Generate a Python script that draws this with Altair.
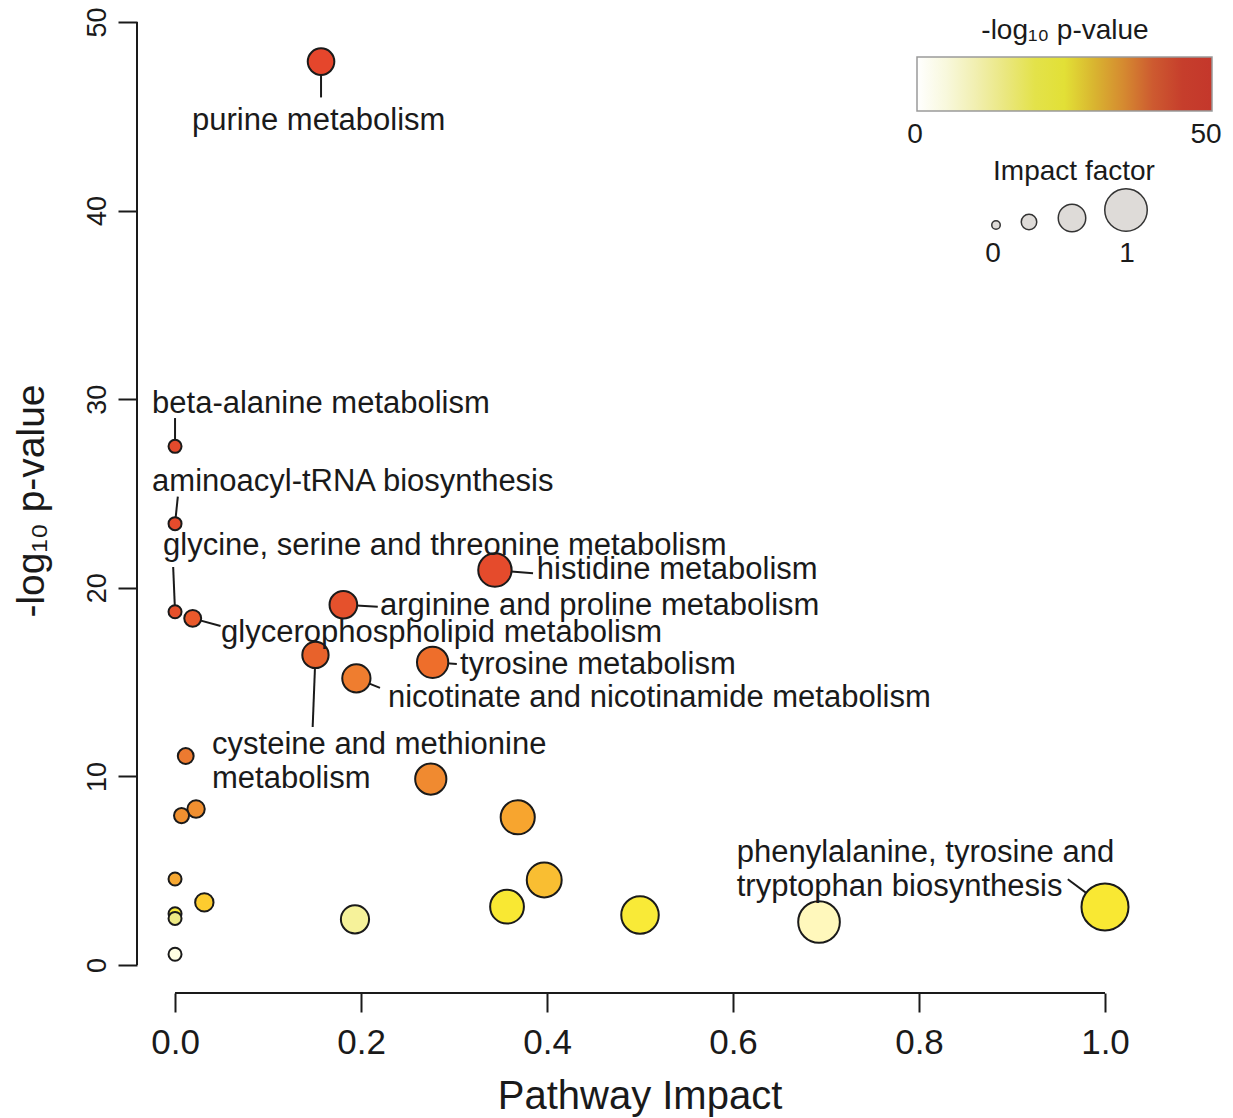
import altair as alt
import pandas as pd

# ---------------- data ----------------
pathway = [
    "purine metabolism", "beta-alanine metabolism", "aminoacyl-tRNA biosynthesis",
    "glycine, serine and threonine metabolism", "glycerophospholipid metabolism",
    "histidine metabolism", "arginine and proline metabolism",
    "cysteine and methionine metabolism", "tyrosine metabolism",
    "nicotinate and nicotinamide metabolism", "p11", "p12", "p13", "p14", "p15",
    "p16", "p17", "p18", "p19", "p20",
    "phenylalanine, tyrosine and tryptophan biosynthesis", "p22", "p23", "p24", "p25", "p26",
]
impact = [0.157, 0.0, 0.0, 0.0, 0.019, 0.344, 0.181, 0.151, 0.277, 0.195,
          0.0115, 0.275, 0.0226, 0.007, 0.3685, 0.0, 0.397, 0.0315, 0.357, 0.5,
          1.0, 0.6925, 0.1935, 0.0, 0.0, 0.0]
neglogp = [47.9, 27.5, 23.4, 18.73, 18.38, 20.94, 19.1, 16.44, 16.05, 15.2,
           11.08, 9.86, 8.27, 7.92, 7.83, 4.56, 4.51, 3.32, 3.09, 2.65,
           3.08, 2.28, 2.42, 2.72, 2.47, 0.57]

# point colour scale (by -log10 p)
color_domain = [0.5, 2.28, 2.42, 2.47, 2.65, 3.1, 3.32, 4.51, 4.56, 7.83, 7.92,
                9.86, 11.08, 15.2, 16.05, 16.44, 18.38, 18.73, 19.1, 21.0, 50]
color_range = ['#FFFFE5', '#FFF8BC', '#F6F29A', '#EEEA85', '#F9EA37', '#F9E833',
               '#FDCC2F', '#F9BE32', '#F7A832', '#F7A52F', '#F09030', '#F08A30',
               '#EC7A30', '#EF7D2F', '#EE6E2B', '#E8622B', '#E9592B', '#E5502B',
               '#E5512C', '#E54B2C', '#E5462C']

# legend gradient scale
grad_domain = [0, 5, 12.5, 20, 26.5, 30, 35, 40, 45, 50]
grad_range = ['#FFFFFF', '#F8F8DC', '#EEEA9A', '#E3E24A', '#E2E030', '#D9B530',
              '#D58A30', '#CD5A30', '#C63E2C', '#C4372B']

# annotations (label text and anchor in data units)
label_text = ["purine metabolism", "beta-alanine metabolism", "aminoacyl-tRNA biosynthesis",
              "glycine, serine and threonine metabolism", "glycerophospholipid metabolism",
              "histidine metabolism", "arginine and proline metabolism",
              "cysteine and methionine", "metabolism", "tyrosine metabolism",
              "nicotinate and nicotinamide metabolism",
              "phenylalanine, tyrosine and", "tryptophan biosynthesis"]
label_x = [0.0183, -0.0247, -0.0247, -0.0129, 0.0495, 0.389, 0.2204,
           0.0398, 0.0398, 0.3065, 0.229, 0.604, 0.604]
label_y = [44.77, 29.77, 25.59, 22.23, 17.6, 20.95, 19.03,
           11.66, 9.86, 15.9, 14.16, 5.94, 4.14]

# leader lines: from point to label
lead_x1 = [0.157, 0.0, 0.0, 0.0, 0.019, 0.344, 0.181, 0.151, 0.277, 0.195, 1.0]
lead_y1 = [47.9, 27.5, 23.4, 18.73, 18.38, 20.94, 19.1, 16.44, 16.05, 15.2, 3.08]
lead_x2 = [0.157, 0.0, 0.003, -0.002, 0.049, 0.385, 0.218, 0.148, 0.303, 0.2204, 0.960]
lead_y2 = [46.0, 29.0, 24.83, 21.1, 17.97, 20.77, 19.0, 12.62, 15.96, 14.69, 4.55]

x_ticks = [0.0, 0.2, 0.4, 0.6, 0.8, 1.0]
y_ticks = [0, 10, 20, 30, 40, 50]

# legend layout (pixels relative to the plot area)
sleg_px = [859, 892, 935, 989]
sleg_py = [217, 214, 210, 202]
sleg_diam = [8.5, 15.5, 27.5, 42.5]
leg_text = ["0", "50", "Impact factor", "0", "1"]
leg_tx = [778, 1069, 937, 856, 990]
leg_ty = [127, 127, 164, 246, 246]

# ---------------- chart ----------------
FONT = "Liberation Sans"
INK = "#1a1a1a"
W, H = 1005, 985
xs = alt.Scale(domain=[-0.0409, 1.0398], nice=False, zero=False)
ys = alt.Scale(domain=[-1.485, 50.742], nice=False, zero=False)

x_axis = alt.Axis(values=x_ticks, format=".1f", grid=False, domain=False, ticks=True,
                  tickSize=19, tickWidth=2, tickColor=INK, labelFont=FONT,
                  labelFontSize=35, labelColor=INK, labelPadding=13, labelFlush=False,
                  labelOverlap=False, title="Pathway Impact", titleFont=FONT,
                  titleFontSize=40, titleFontWeight="normal", titleColor=INK,
                  titlePadding=16)
y_axis = alt.Axis(values=y_ticks, grid=False, domain=False, ticks=True, tickSize=19,
                  tickWidth=2, tickColor=INK, labelAngle=270, labelAlign="center",
                  labelBaseline="bottom", labelPadding=7, labelFont=FONT,
                  labelFontSize=27, labelColor=INK, labelFlush=False, labelOverlap=False,
                  title="-log\u2081\u2080 p-value", titleFont=FONT, titleFontSize=39,
                  titleFontWeight="normal", titleColor=INK, titlePadding=32)


def X(field):
    return alt.X(field, scale=xs, axis=x_axis)


def Y(field):
    return alt.Y(field, scale=ys, axis=y_axis)


pts = pd.DataFrame({"pathway": pathway, "impact": impact, "neglogp": neglogp})
lead = pd.DataFrame({"x1": lead_x1, "y1": lead_y1, "x2": lead_x2, "y2": lead_y2})
labs = pd.DataFrame({"text": label_text, "x": label_x, "y": label_y})
one = pd.DataFrame({"x0": [0.0], "x1": [1.0], "y0": [0.0], "y1": [50.0]})

xaxis_line = alt.Chart(one).mark_rule(color=INK, strokeWidth=2).encode(
    x=X("x0:Q"), x2="x1:Q", y=alt.value(H))
yaxis_line = alt.Chart(one).mark_rule(color=INK, strokeWidth=2).encode(
    y=Y("y0:Q"), y2="y1:Q", x=alt.value(0))

leaders = alt.Chart(lead).mark_rule(color=INK, strokeWidth=2).encode(
    x=X("x1:Q"), y=Y("y1:Q"), x2="x2:Q", y2="y2:Q")

# Vega circle symbols: size = diameter^2
points = alt.Chart(pts).mark_circle(opacity=1, stroke=INK, strokeWidth=2).encode(
    x=X("impact:Q"),
    y=Y("neglogp:Q"),
    color=alt.Color("neglogp:Q", scale=alt.Scale(domain=color_domain, range=color_range,
                                                 interpolate="rgb"), legend=None),
    size=alt.Size("impact:Q", scale=alt.Scale(type="pow", exponent=0.72, domain=[0, 1],
                                              range=[169, 2209]), legend=None),
)

labels = alt.Chart(labs).mark_text(align="left", baseline="middle", font=FONT,
                                   fontSize=31, color=INK).encode(
    x=X("x:Q"), y=Y("y:Q"), text="text:N")

grad = alt.Chart(pts).mark_circle(size=0, opacity=1, strokeWidth=0).encode(
    x=X("impact:Q"),
    y=Y("neglogp:Q"),
    color=alt.Color("neglogp:Q",
                    scale=alt.Scale(domain=grad_domain, range=grad_range, interpolate="rgb"),
                    legend=alt.Legend(orient="none", legendX=780, legendY=9,
                                      direction="horizontal", gradientLength=295,
                                      gradientThickness=54, gradientStrokeColor="#9a9a9a",
                                      gradientStrokeWidth=1.5, values=[0, 50],
                                      labelExpr="''", labelFontSize=28,
                                      title="-log\u2081\u2080 p-value", titleFont=FONT,
                                      titleFontSize=28, titleFontWeight="normal",
                                      titleColor=INK, titleAnchor="middle",
                                      titleAlign="center", titlePadding=12)))

legend_marks = []
for px, py, d in zip(sleg_px, sleg_py, sleg_diam):
    legend_marks.append(
        alt.Chart(one).mark_circle(opacity=1, color="#DEDBD8", stroke="#333333",
                                   strokeWidth=1.5).encode(
            x=alt.value(px), y=alt.value(py), size=alt.value(d * d)))
for t, px, py in zip(leg_text, leg_tx, leg_ty):
    legend_marks.append(
        alt.Chart(one).mark_text(align="center", baseline="middle", font=FONT,
                                 fontSize=28, color=INK, text=t).encode(
            x=alt.value(px), y=alt.value(py)))

chart = alt.layer(
    xaxis_line, yaxis_line, leaders, points, labels, grad, *legend_marks
).resolve_scale(color="independent").properties(
    width=W, height=H,
    autosize=alt.AutoSizeParams(type="none"),
    padding={"left": 129, "top": 0, "right": 80, "bottom": 124},
    background="white",
).configure_view(stroke=None)

chart.save("out.html", embed_options={"renderer": "svg", "actions": False})
